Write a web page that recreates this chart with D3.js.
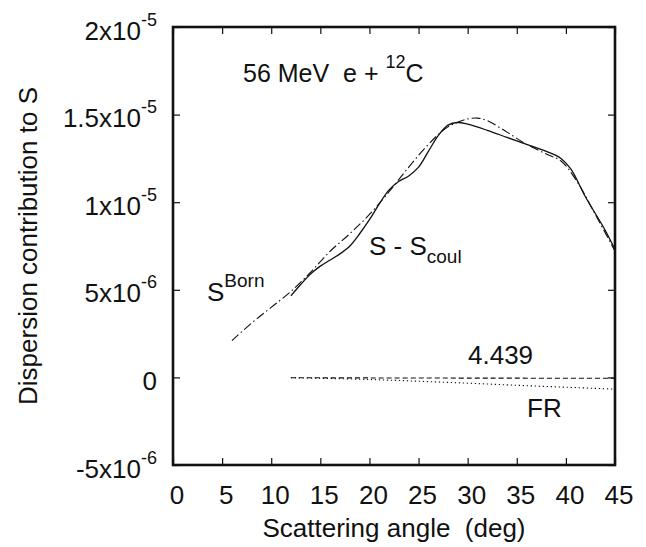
<!DOCTYPE html>
<html>
<head>
<meta charset="utf-8">
<script src="https://cdn.jsdelivr.net/npm/d3@7"></script>
<style>
  body { margin: 0; background: #fff; }
  text { font-family: "Liberation Sans", Arial, sans-serif; fill: #111; white-space: pre; }
</style>
</head>
<body>
<div class="chart"></div>
<script>
// values in units of 1e-6
const bornAngle = [6, 8, 10, 12, 14, 16, 18, 20, 22, 24, 26, 28, 30, 31, 32, 34, 36, 38, 39.5, 41, 43, 45]
const bornValue = [2.1, 3.1, 4.0, 4.9, 6.0, 7.2, 8.2, 9.3, 10.6, 12.0, 13.3, 14.3, 14.75, 14.8, 14.65, 14.0, 13.3, 12.75, 12.35, 11.3, 9.3, 7.2]

const coulAngle = [12, 13, 14, 15, 16, 17, 18, 19, 20, 21, 22, 23, 24, 25, 26, 27, 28, 29, 30, 32, 34, 36, 38, 39.5, 40.5, 42, 44, 45]
const coulValue = [4.65, 5.3, 5.9, 6.35, 6.7, 7.05, 7.5, 8.2, 9.0, 9.9, 10.7, 11.2, 11.5, 12.0, 12.9, 13.8, 14.4, 14.55, 14.45, 14.1, 13.7, 13.3, 12.9, 12.5, 11.9, 10.3, 8.4, 7.3]

const levelAngle = [12, 20, 30, 45]
const levelValue = [-0.02, -0.03, -0.04, -0.05]

const frAngle = [12, 15, 20, 25, 30, 35, 40, 45]
const frValue = [-0.02, -0.05, -0.12, -0.22, -0.33, -0.45, -0.56, -0.67]

const xTicks = [0, 5, 10, 15, 20, 25, 30, 35, 40, 45]
const yTicks = [-5, 0, 5, 10, 15, 20]
const yTickLabels = [["-5x10", "-6"], ["0", ""], ["5x10", "-6"], ["1x10", "-5"], ["1.5x10", "-5"], ["2x10", "-5"]]

const width = 646, height = 547
const margin = { left: 173, right: 31, top: 27, bottom: 82 }

const svg = d3.select(".chart").append("svg")
    .attr("width", width)
    .attr("height", height)

const x = d3.scaleLinear().domain([0, 45]).range([margin.left, width - margin.right])
const y = d3.scaleLinear().domain([-5, 20]).range([height - margin.bottom, margin.top])

const toPoints = (a, v) => a.map((d, i) => [d, v[i]])
const line = d3.line()
    .x(d => x(d[0]))
    .y(d => y(d[1]))
    .curve(d3.curveCatmullRom)

// curves
svg.append("path")
    .attr("d", line(toPoints(bornAngle, bornValue)))
    .attr("fill", "none").attr("stroke", "#111").attr("stroke-width", 1.1)
    .attr("stroke-dasharray", "9,3,1.5,3")

svg.append("path")
    .attr("d", line(toPoints(coulAngle, coulValue)))
    .attr("fill", "none").attr("stroke", "#111").attr("stroke-width", 1.3)

svg.append("path")
    .attr("d", line(toPoints(levelAngle, levelValue)))
    .attr("fill", "none").attr("stroke", "#111").attr("stroke-width", 1.1)
    .attr("stroke-dasharray", "5,3")

svg.append("path")
    .attr("d", line(toPoints(frAngle, frValue)))
    .attr("fill", "none").attr("stroke", "#111").attr("stroke-width", 1.1)
    .attr("stroke-dasharray", "1.3,2.7")

// axes with inward ticks
const tick = 7
svg.append("g")
    .attr("transform", `translate(0,${y(-5)})`)
    .call(d3.axisBottom(x).tickValues(xTicks).tickSize(-tick).tickFormat(""))
svg.append("g")
    .attr("transform", `translate(0,${y(20)})`)
    .call(d3.axisTop(x).tickValues(xTicks).tickSize(-tick).tickFormat(""))
svg.append("g")
    .attr("transform", `translate(${x(0)},0)`)
    .call(d3.axisLeft(y).tickValues(yTicks).tickSize(-tick).tickFormat(""))
svg.append("g")
    .attr("transform", `translate(${x(45)},0)`)
    .call(d3.axisRight(y).tickValues(yTicks).tickSize(-tick).tickFormat(""))
svg.selectAll(".domain").remove()
svg.selectAll(".tick line").attr("stroke", "#111").attr("stroke-width", 1.2)

svg.append("rect")
    .attr("x", x(0)).attr("y", y(20))
    .attr("width", x(45) - x(0)).attr("height", y(-5) - y(20))
    .attr("fill", "none").attr("stroke", "#111").attr("stroke-width", 2.6)

// tick labels
svg.selectAll(".xlab").data(xTicks).enter().append("text")
    .attr("x", d => x(d) + 4)
    .attr("y", 504)
    .attr("text-anchor", "middle")
    .attr("font-size", 26)
    .text(d => d)

yTicks.forEach((d, i) => {
    const t = svg.append("text")
        .attr("x", 157)
        .attr("y", y(d) + 12.5)
        .attr("text-anchor", "end")
        .attr("font-size", 26)
    t.append("tspan").text(yTickLabels[i][0])
    if (yTickLabels[i][1]) {
        t.append("tspan").attr("dy", -14).attr("font-size", 18).text(yTickLabels[i][1])
    }
})

// axis titles
svg.append("text")
    .attr("x", 394).attr("y", 537)
    .attr("text-anchor", "middle")
    .attr("font-size", 26)
    .text("Scattering angle  (deg)")

svg.append("text")
    .attr("transform", "translate(37,246) rotate(-90)")
    .attr("text-anchor", "middle")
    .attr("font-size", 26)
    .text("Dispersion contribution to S")

// annotations
const title = svg.append("text").attr("x", 243).attr("y", 82).attr("font-size", 25)
title.append("tspan").text("56 MeV  e + ")
title.append("tspan").attr("dy", -14).attr("font-size", 18).text("12")
title.append("tspan").attr("dy", 14).text("C")

const born = svg.append("text").attr("x", 207).attr("y", 301).attr("font-size", 26)
born.append("tspan").text("S")
born.append("tspan").attr("dy", -14).attr("font-size", 19).text("Born")

const coul = svg.append("text").attr("x", 369).attr("y", 255).attr("font-size", 26)
coul.append("tspan").text("S - S")
coul.append("tspan").attr("dy", 8).attr("font-size", 19).text("coul")

svg.append("text").attr("x", 468).attr("y", 364).attr("font-size", 26).text("4.439")
svg.append("text").attr("x", 527).attr("y", 417).attr("font-size", 26).text("FR")
</script>
</body>
</html>
